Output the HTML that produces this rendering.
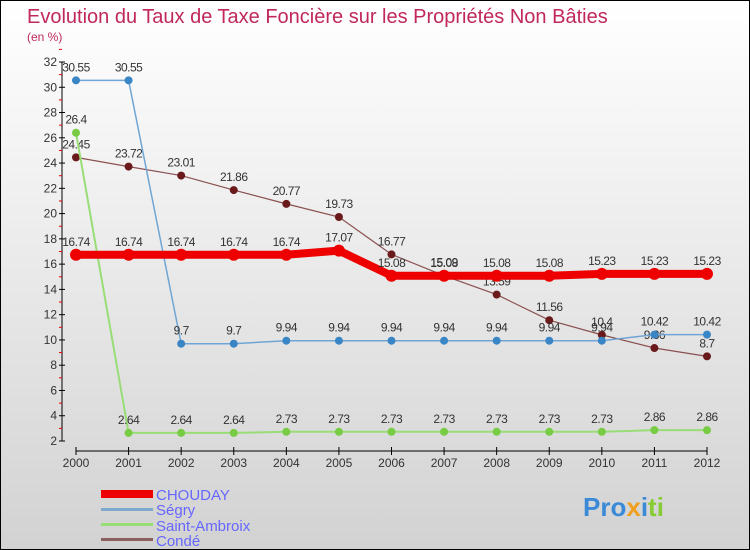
<!DOCTYPE html>
<html><head><meta charset="utf-8"><style>
body{margin:0}
#c{width:750px;height:550px;position:relative;box-sizing:border-box;border:1px solid #000;background:linear-gradient(#fff,#f2f2f2 30%,#d2d2d2);font-family:"Liberation Sans",sans-serif;overflow:hidden}
</style></head><body>
<div id="c">
<svg id="s" width="750" height="550" style="position:absolute;left:0;top:0">
<text x="26" y="22" font-size="20" fill="#c0285a">Evolution du Taux de Taxe Foncière sur les Propriétés Non Bâties</text>
<text x="26" y="40" font-size="12" fill="#c0285a">(en %)</text>
<g id="ax"></g><g id="ser"></g>
<g>
<rect x="100" y="489" width="52" height="8" fill="#e00"/>
<text x="155" y="499" font-size="15" fill="#6666ff">CHOUDAY</text>
<rect x="100" y="507" width="52" height="3" fill="#7ea9cc"/>
<text x="155" y="514" font-size="15" fill="#6666ff">Ségry</text>
<rect x="100" y="522" width="52" height="3" fill="#99dd77"/>
<text x="155" y="530" font-size="15" fill="#6666ff">Saint-Ambroix</text>
<rect x="100" y="537" width="52" height="3" fill="#8a6060"/>
<text x="155" y="545" font-size="15" fill="#6666ff">Condé</text>
</g>
<g>
<text x="582" y="515" font-size="26" font-weight="bold"><tspan fill="#3a8ad8">Pro</tspan><tspan fill="#f0a020">x</tspan><tspan fill="#3a8ad8">i</tspan><tspan fill="#88cc33">ti</tspan></text>
</g>
</svg>
</div>
<script>
const years=[2000,2001,2002,2003,2004,2005,2006,2007,2008,2009,2010,2011,2012];
const yTicks=[2,4,6,8,10,12,14,16,18,20,22,24,26,28,30,32];
const chouday=[16.74,16.74,16.74,16.74,16.74,17.07,15.08,15.08,15.08,15.08,15.23,15.23,15.23];
const segry=[30.55,30.55,9.7,9.7,9.94,9.94,9.94,9.94,9.94,9.94,9.94,10.42,10.42];
const saintAmbroix=[26.4,2.64,2.64,2.64,2.73,2.73,2.73,2.73,2.73,2.73,2.73,2.86,2.86];
const conde=[24.45,23.72,23.01,21.86,20.77,19.73,16.77,15.09,13.59,11.56,10.4,9.36,8.7];
const NS="http://www.w3.org/2000/svg";
const X=i=>75+i*(706-75)/(years.length-1);
const Y=v=>440-(v-2)*(440-61)/30;
function mk(tag,at,par){const e=document.createElementNS(NS,tag);for(const k in at)e.setAttribute(k,at[k]);par.appendChild(e);return e;}
const ax=document.getElementById('ax'),ser=document.getElementById('ser');
let yl=mk('line',{x1:61,y1:61,x2:61,y2:440,stroke:'#000'},ax);


yTicks.forEach(t=>{
 mk('line',{x1:58,y1:Y(t),x2:64,y2:Y(t),stroke:'#000'},ax);
 mk('line',{x1:58,y1:Y(t+1),x2:61,y2:Y(t+1),stroke:'#e00'},ax);
 const tx=mk('text',{x:56,y:Y(t)+4,'font-size':12,fill:'#333','text-anchor':'end'},ax);tx.textContent=t;
 
 
});
let xl=mk('line',{x1:75,y1:450,x2:706,y2:450,stroke:'#000'},ax);


years.forEach((y,i)=>{
 mk('line',{x1:X(i),y1:446,x2:X(i),y2:454,stroke:'#000'},ax);
 const tx=mk('text',{x:X(i),y:466,'font-size':12,fill:'#333','text-anchor':'middle'},ax);tx.textContent=y;
 
 
});
function series(vals,name,col,w,dot,r){
 const g=mk('g',{},ser);
 
 
 const p=mk('polyline',{points:vals.map((v,i)=>X(i)+','+Y(v)).join(' '),fill:'none',stroke:col,'stroke-width':w},g);
 
 
 vals.forEach((v,i)=>{
  const c=mk('circle',{cx:X(i),cy:Y(v),r:r,fill:dot},g);
  
  
  const t=mk('text',{x:X(i),y:Y(v)-9,'font-size':12,fill:'#333','text-anchor':'middle','letter-spacing':'-0.5'},g);t.textContent=v;
  
  
 });
}
series(conde,'conde','#8a5050',1.2,'#6a1a1a',4);
series(saintAmbroix,'saint-ambroix','#99dd77',2,'#77cc44',4);
series(segry,'segry','#6fa5d5',1.5,'#3a85c5',4);
series(chouday,'chouday','#e00',8,'#e00',6);
</script>
</body></html>
